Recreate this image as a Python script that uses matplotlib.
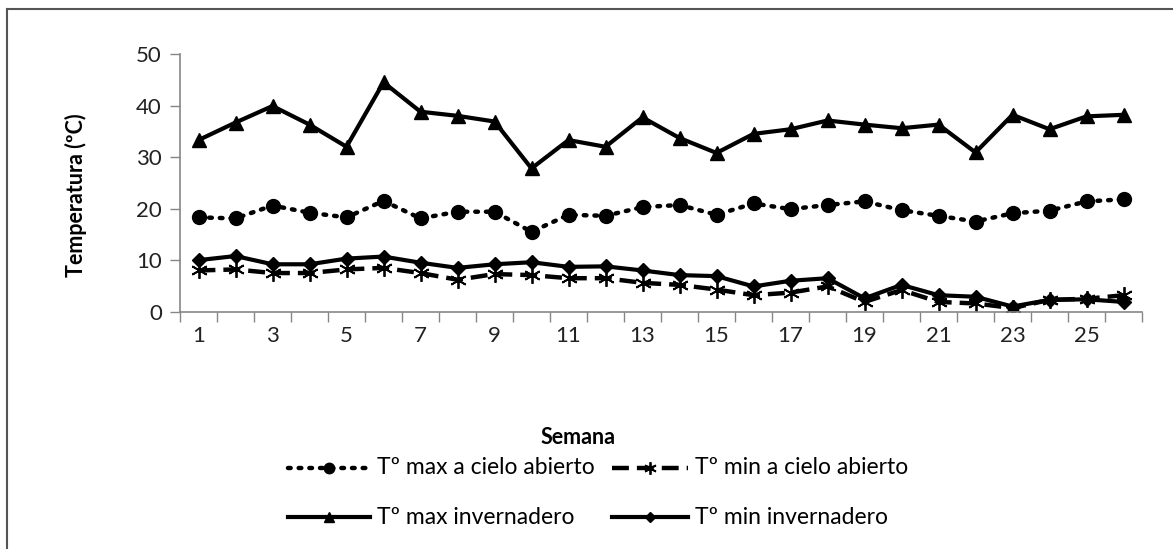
import matplotlib
matplotlib.use("Agg")
import matplotlib.pyplot as plt
from matplotlib.lines import Line2D
import numpy as np

plt.rcParams['font.family'] = ['Lato', 'DejaVu Sans']

semanas = list(range(1, 27))
tmax_abierto = [18.3, 18.1, 20.6, 19.2, 18.3, 21.5, 18.1, 19.4, 19.4, 15.5,
                18.8, 18.6, 20.3, 20.7, 18.8, 21.0, 19.9, 20.7, 21.4, 19.7,
                18.6, 17.5, 19.1, 19.6, 21.4, 21.8]
tmin_abierto = [8.0, 8.2, 7.5, 7.5, 8.2, 8.5, 7.5, 6.2, 7.3, 7.1,
                6.5, 6.5, 5.6, 5.2, 4.3, 3.2, 3.7, 4.9, 1.9, 4.2,
                1.9, 1.6, 0.7, 2.3, 2.5, 3.2]
tmax_inv = [33.3, 36.7, 39.9, 36.3, 32.0, 44.5, 38.8, 38.0, 36.9, 27.8,
            33.3, 32.0, 37.7, 33.7, 30.8, 34.5, 35.4, 37.1, 36.3, 35.6,
            36.3, 30.9, 38.2, 35.4, 37.9, 38.2]
tmin_inv = [10.0, 10.8, 9.2, 9.2, 10.3, 10.7, 9.5, 8.5, 9.2, 9.6,
            8.7, 8.8, 8.0, 7.1, 6.9, 4.9, 6.0, 6.5, 2.6, 5.2,
            3.2, 2.9, 1.0, 2.3, 2.4, 1.9]

labels = ['Tº max a cielo abierto', 'Tº min a cielo abierto',
          'Tº max invernadero', 'Tº min invernadero']

fig = plt.figure(figsize=(11.73, 5.49), dpi=100)
ax = fig.add_axes([180/1173, 1-311.7/549, (1142-180)/1173, (311.7-54)/549])

k = 'black'
styles = [
    dict(lw=3.2, linestyle=(0, (0.6, 1.8)), dash_capstyle='round', marker='o', ms=10, mew=1),
    dict(lw=3.2, linestyle=(0, (3.8, 1.8)), dash_capstyle='butt', marker=(6, 2, 0), ms=12, mew=1.3),
    dict(lw=3.0, linestyle='-', dash_capstyle='butt', marker='^', ms=10, mew=1),
    dict(lw=3.0, linestyle='-', dash_capstyle='butt', marker='D', ms=7, mew=1),
]
series = [tmax_abierto, tmin_abierto, tmax_inv, tmin_inv]
for vals, st in zip(series, styles):
    ax.plot(semanas, vals, color=k, **st)

ax.set_xlim(0.5, 26.5)
ax.set_ylim(0, 50)
ax.set_yticks(range(0, 51, 10))
ax.set_xticks(semanas[::2])
ax.set_xticks(np.arange(0.5, 27, 1), minor=True)
ax.tick_params(axis='x', which='major', length=0, labelsize=16, pad=10, labelcolor='#222222')
ax.tick_params(axis='x', which='minor', length=7, width=1, color='#868686', direction='out')
ax.tick_params(axis='y', length=7, width=1, color='#868686', labelsize=16, pad=6, labelcolor='#222222')
for s in ['top', 'right']:
    ax.spines[s].set_visible(False)
for s in ['left', 'bottom']:
    ax.spines[s].set_color('#868686')
    ax.spines[s].set_linewidth(1.2)

fig.text(76/1173, 1-195/549, 'Temperatura (ºC)', rotation=90, ha='center', va='center',
         fontsize=15.5, fontweight='bold')
fig.text(578/1173, 1-437/549, 'Semana', ha='center', va='center', fontsize=15.5, fontweight='bold')

def handle(x0, x1, y, st):
    yy = 1 - y/549
    h = Line2D([x0/1173, x1/1173], [yy, yy], transform=fig.transFigure, color=k,
               lw=st['lw'], linestyle=st['linestyle'], dash_capstyle=st['dash_capstyle'])
    fig.add_artist(h)
    m = Line2D([(x0+x1)/2/1173], [yy], transform=fig.transFigure, color=k, lw=0,
               marker=st['marker'], ms=st['ms']*0.75, mew=st['mew'])
    fig.add_artist(m)

entries = [(288, 370, 468, 0), (612, 688, 468, 1),
           (288, 370, 517, 2), (612, 688, 517, 3)]
for x0, x1, y, i in entries:
    handle(x0, x1, y, styles[i])
    fig.text((x1+7)/1173, 1-y/549, labels[i], ha='left', va='center', fontsize=16.5)

# partial border of the chart frame
fig.add_artist(Line2D([7/1173, 7/1173], [0, 1-9/549], transform=fig.transFigure, color='#555555', lw=1.5))
fig.add_artist(Line2D([7/1173, 1], [1-9/549, 1-9/549], transform=fig.transFigure, color='#555555', lw=1.5))

fig.savefig('out.png', dpi=100, facecolor='white')
